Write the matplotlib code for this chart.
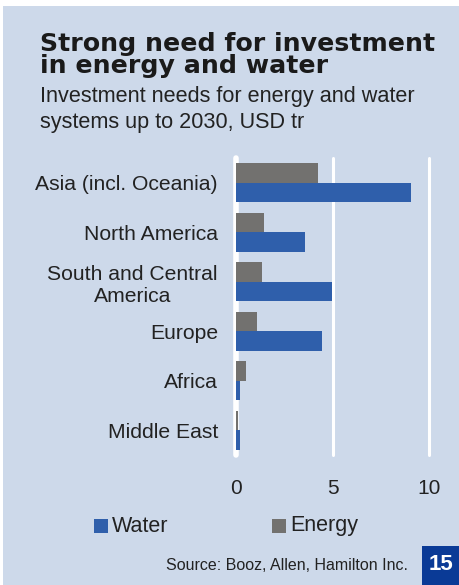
import matplotlib
matplotlib.use("Agg")
import matplotlib.pyplot as plt
import numpy as np
from matplotlib.patches import Rectangle

categories = ["Asia (incl. Oceania)", "North America", "South and Central\nAmerica",
              "Europe", "Africa", "Middle East"]
water = [9.05, 3.6, 4.95, 4.45, 0.2, 0.2]
energy = [4.25, 1.45, 1.35, 1.1, 0.5, 0.1]
xticks = [0, 5, 10]

BG = "#cdd9ea"
BLUE = "#2f5fab"
GREY = "#72716f"
TXT = "#222222"

W, H = 459, 585
fig = plt.figure(figsize=(W / 100, H / 100), dpi=100)
fig.patch.set_facecolor("white")
fig.patches.append(Rectangle((3 / W, 0), 1, (H - 6) / H, transform=fig.transFigure,
                             facecolor=BG, edgecolor="none", zorder=-10))

font = "Liberation Sans"

def fy(y):
    return 1 - y / H

def fx(x):
    return x / W

ax = fig.add_axes([fx(236), fy(455), fx(429) - fx(236), fy(158) - fy(455)])
ax.set_facecolor("none")
ax.set_xlim(0, 10)
n = len(categories)
y = np.arange(n)
ax.set_ylim(n - 0.5, -0.5)
h = 0.39
ax.barh(y - h / 2, energy, height=h, color=GREY, zorder=3)
ax.barh(y + h / 2, water, height=h, color=BLUE, zorder=3)
for xv in xticks:
    ax.axvline(xv, color="white", lw=4 if xv == 0 else 2.2, zorder=2,
               clip_on=False, solid_capstyle="round")
for s in ax.spines.values():
    s.set_visible(False)
ax.set_xticks(xticks)
ax.set_xticklabels([str(v) for v in xticks], fontfamily=font, fontsize=15, color=TXT)
ax.tick_params(axis="x", length=0, pad=17)
ax.set_yticks(y)
ax.set_yticklabels(categories, fontfamily=font, fontsize=15.2, color=TXT,
                   linespacing=1.25)
for t in ax.get_yticklabels():
    t.set_multialignment("center")
ax.tick_params(axis="y", length=0, pad=13)

title_kw = dict(fontfamily="DejaVu Sans", fontweight="bold", fontsize=18.2, color="#1a1a1a",
                va="baseline")
fig.text(fx(40), fy(51), "Strong need for investment", **title_kw)
fig.text(fx(40), fy(73), "in energy and water", **title_kw)
sub_kw = dict(fontfamily=font, fontsize=15.6, color=TXT, va="baseline")
fig.text(fx(40), fy(102), "Investment needs for energy and water", **sub_kw)
fig.text(fx(40), fy(128), "systems up to 2030, USD tr", **sub_kw)

# legend
fig.patches.append(Rectangle((fx(94), fy(533)), fx(14), 14 / H, transform=fig.transFigure,
                             facecolor=BLUE, edgecolor="none"))
fig.text(fx(112), fy(526), "Water", fontfamily=font, fontsize=15.5, color=TXT, va="center")
fig.patches.append(Rectangle((fx(272), fy(533)), fx(14), 14 / H, transform=fig.transFigure,
                             facecolor=GREY, edgecolor="none"))
fig.text(fx(290), fy(526), "Energy", fontfamily=font, fontsize=15.5, color=TXT, va="center")

fig.text(fx(408), fy(565), "Source: Booz, Allen, Hamilton Inc.", fontfamily=font, fontsize=11.5,
         color=TXT, ha="right", va="center")
fig.patches.append(Rectangle((fx(422), 0), 1, 39 / H, transform=fig.transFigure,
                             facecolor="#0a3a96", edgecolor="none"))
fig.text(fx(441), fy(565), "15", fontfamily=font, fontweight="bold", fontsize=16,
         color="white", ha="center", va="center")

fig.savefig("out.png", dpi=100)
